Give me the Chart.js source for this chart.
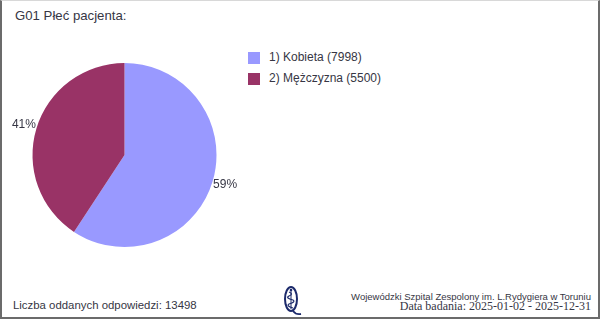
<!DOCTYPE html>
<html>
<head>
<meta charset="utf-8">
<script src="https://cdn.jsdelivr.net/npm/chart.js@4.4.1/dist/chart.umd.min.js"></script>
<style>
    html, body { margin: 0; padding: 0; background: #fff; }
    body { width: 600px; height: 321px; position: relative; overflow: hidden; font-family: "Liberation Sans", Arial, sans-serif; color: #363644; }
    .frame { position: absolute; left: 0; top: 0; width: 600px; height: 319px; border-left: 2px solid #6b6b6b; border-right: 2px solid #6b6b6b; border-bottom: 2px solid #6b6b6b; border-top: 1px solid #d8d8d8; box-sizing: border-box; }
    .abs { position: absolute; white-space: nowrap; }
    #title { left: 15px; top: 8px; font-size: 13.2px; }
    .legend-row { position: absolute; left: 248px; height: 12px; }
    .legend-row .box { position: absolute; left: 0; top: 0; width: 12px; height: 12px; }
    .legend-row .lbl { position: absolute; left: 21px; top: -1px; font-size: 12px; line-height: 13px; white-space: nowrap; }
    #count { left: 13px; top: 299px; font-size: 11.4px; }
    #hosp { right: 9px; top: 291px; font-size: 9.5px; }
    #date { right: 9px; top: 299px; font-size: 12px; font-family: "Liberation Serif", "Times New Roman", serif; }
    #chart-wrap { position: absolute; left: 0; top: 40px; width: 250px; height: 230px; }
    #logo { position: absolute; left: 282px; top: 285px; }
</style>
</head>
<body>
<div class="frame"></div>
<div id="title" class="abs">G01 Płeć pacjenta:</div>
<div id="legend"></div>
<div id="chart-wrap"><canvas id="chart-pie"></canvas></div>
<svg id="logo" width="22" height="32" viewBox="0 0 22 32">
    <ellipse cx="9" cy="14" rx="6" ry="12" fill="none" stroke="#1c2a6b" stroke-width="2"/>
    <path d="M11 26 Q14 30 19 29" fill="none" stroke="#1c2a6b" stroke-width="1.8"/>
    <line x1="9" y1="5" x2="9" y2="24" stroke="#1c2a6b" stroke-width="1"/>
    <path d="M7 7 Q12 9 7 11 Q3 13 11 15 Q14 17 7 19 Q4 21 11 23" fill="none" stroke="#1c2a6b" stroke-width="1.2"/>
    <circle cx="9" cy="5" r="1.3" fill="#1c2a6b"/>
</svg>
<div id="count" class="abs">Liczba oddanych odpowiedzi: 13498</div>
<div id="hosp" class="abs">Wojewódzki Szpital Zespolony im. L.Rydygiera w Toruniu</div>
<div id="date" class="abs">Data badania: 2025-01-02 - 2025-12-31</div>
<script>
    const categories = ['1) Kobieta', '2) Mężczyzna'];
    const counts = [7998, 5500];
    const sliceColors = ['#9999ff', '#993366'];

    const total = counts.reduce((a, b) => a + b, 0);

    // legend rows
    const legendEl = document.getElementById('legend');
    categories.forEach((name, i) => {
        const row = document.createElement('div');
        row.className = 'legend-row';
        row.style.top = (52 + i * 21) + 'px';
        row.innerHTML = `<div class="box" style="background:${sliceColors[i]}"></div><div class="lbl">${name} (${counts[i]})</div>`;
        legendEl.appendChild(row);
    });

    // percent labels outside the slices
    const outsideLabels = {
        id: 'outsideLabels',
        afterDatasetsDraw(chart) {
            const ctx = chart.ctx;
            const meta = chart.getDatasetMeta(0);
            ctx.save();
            ctx.font = '12px "Liberation Sans", Arial, sans-serif';
            ctx.fillStyle = '#363644';
            ctx.textAlign = 'center';
            ctx.textBaseline = 'middle';
            meta.data.forEach((arc, i) => {
                const mid = (arc.startAngle + arc.endAngle) / 2;
                const r = arc.outerRadius + 13;
                const pct = Math.round(counts[i] / total * 100) + '%';
                ctx.fillText(pct, arc.x + Math.cos(mid) * r, arc.y + Math.sin(mid) * r);
            });
            ctx.restore();
        }
    };

    const ctx = document.getElementById('chart-pie').getContext('2d');
    new Chart(ctx, {
        type: 'pie',
        data: {
            labels: categories,
            datasets: [{
                data: counts,
                backgroundColor: sliceColors,
                borderWidth: 0
            }]
        },
        options: {
            responsive: true,
            maintainAspectRatio: false,
            animation: false,
            layout: { padding: { left: 32, right: 33, top: 23, bottom: 23 } },
            plugins: {
                legend: { display: false },
                tooltip: { enabled: false }
            }
        },
        plugins: [outsideLabels]
    });
</script>
</body>
</html>
